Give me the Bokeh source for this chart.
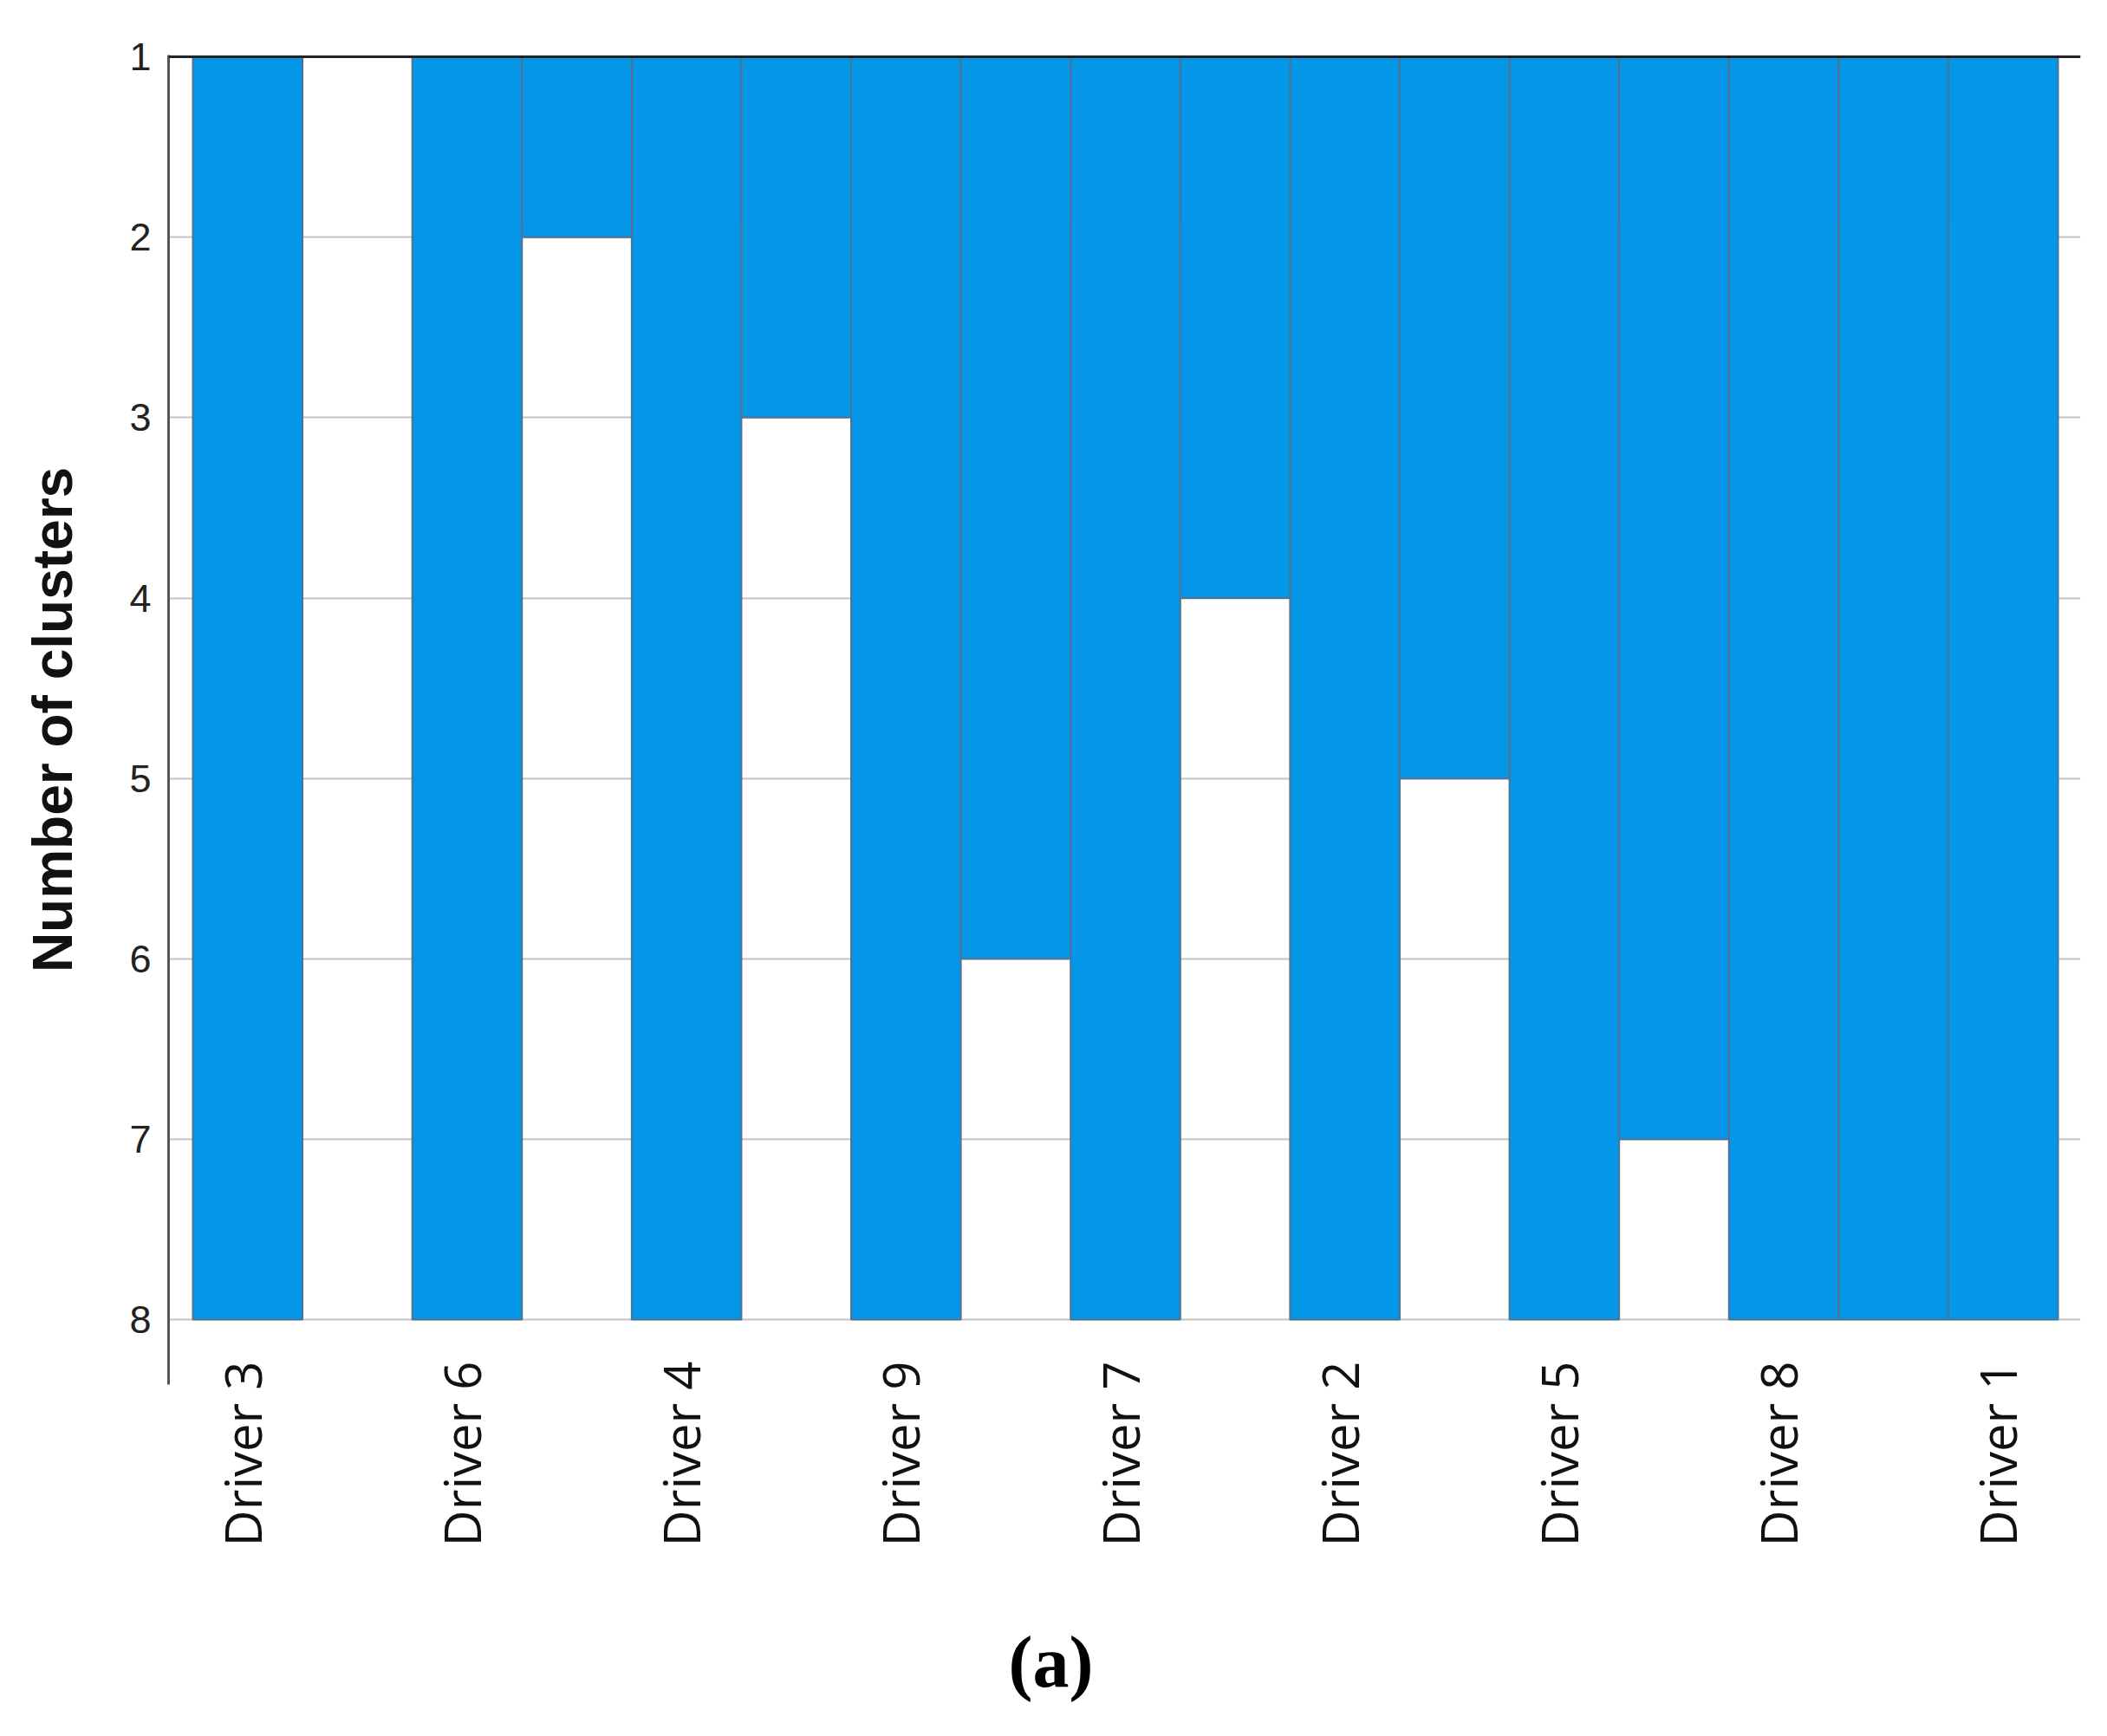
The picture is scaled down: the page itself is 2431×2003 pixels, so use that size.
import math
from bokeh.plotting import figure
from bokeh.models import Range1d, FixedTicker, Span, Title, LinearAxis
from bokeh.embed import file_html
from bokeh.resources import INLINE

# ---- data ----
drivers = ["Driver 3", "Driver 6", "Driver 4", "Driver 9", "Driver 7",
           "Driver 2", "Driver 5", "Driver 8", "Driver 1"]
driver_depth = [8, 8, 8, 8, 8, 8, 8, 8, 8]          # each driver column spans all levels
join_depth = [1, 2, 3, 6, 4, 5, 7, 8]              # gap column between neighbours: filled down to this level
cluster_levels = [1, 2, 3, 4, 5, 6, 7, 8]

BLUE = "#0497E8"
EDGE = "#4f7393"

# column positions: driver i -> 2i, gap i -> 2i+1
drv_x = [2 * i + 0.5 for i in range(len(drivers))]
gap_x = [2 * i + 1.5 for i in range(len(join_depth))]
ncol = len(drivers) + len(join_depth)
label_x = [x - 0.05 for x in drv_x]   # small visual nudge of the rotated labels

p = figure(width=2431, height=2003, output_backend="svg", toolbar_location=None,
           x_range=Range1d(-0.221, ncol + 0.205),
           y_range=Range1d(8.36, 0.99),
           min_border_left=194, min_border_right=31, min_border_top=63,
           min_border_bottom=406)
p.outline_line_color = None
p.background_fill_color = "white"
p.border_fill_color = "white"

# bars
p.vbar(x=drv_x, width=1, top=[1] * len(drivers), bottom=driver_depth,
       fill_color=BLUE, line_color=EDGE, line_width=2)
gx = [x for x, d in zip(gap_x, join_depth) if d > 1]
gd = [d for d in join_depth if d > 1]
p.vbar(x=gx, width=1, top=[1] * len(gx), bottom=gd,
       fill_color=BLUE, line_color=EDGE, line_width=2)

# top rule
p.add_layout(Span(location=cluster_levels[0], dimension="width",
                  line_color="#222222", line_width=3))

# grid
p.xgrid.visible = False
p.ygrid.ticker = FixedTicker(ticks=cluster_levels)
p.ygrid.grid_line_color = "#c4c4c4"
p.ygrid.grid_line_width = 2

# y axis
p.yaxis.ticker = FixedTicker(ticks=cluster_levels)
p.yaxis.axis_line_color = "#555555"
p.yaxis.axis_line_width = 3
p.yaxis.major_tick_out = 0
p.yaxis.major_tick_in = 0
p.yaxis.minor_tick_out = 0
p.yaxis.minor_tick_in = 0
p.yaxis.major_label_standoff = 20
p.yaxis.major_label_text_font = "Liberation Sans"
p.yaxis.major_label_text_font_size = "45px"
p.yaxis.major_label_text_color = "#222222"
p.yaxis.axis_label = "Number of clusters"
p.yaxis.axis_label_text_font = "Liberation Sans"
p.yaxis.axis_label_text_font_style = "bold"
p.yaxis.axis_label_text_font_size = "64px"
p.yaxis.axis_label_text_color = "#111111"
p.yaxis.axis_label_standoff = 49

# x axis
p.xaxis.ticker = FixedTicker(ticks=label_x)
p.xaxis.major_label_overrides = {x: name for x, name in zip(label_x, drivers)}
p.xaxis.axis_line_color = None
p.xaxis.major_tick_out = 0
p.xaxis.major_tick_in = 0
p.xaxis.minor_tick_out = 0
p.xaxis.minor_tick_in = 0
p.xaxis.major_label_orientation = math.pi / 2
p.xaxis.major_label_standoff = -27
p.xaxis.major_label_text_font = "Open Sans"
p.xaxis.major_label_text_font_size = "58px"
p.xaxis.major_label_text_color = "#111111"

# blank spacer axis between the tick labels and the caption (white tick in the margin)
spacer_tick = -0.2
spacer = LinearAxis(ticker=FixedTicker(ticks=[spacer_tick]), axis_line_color=None,
                    major_tick_line_color="white", minor_tick_line_color=None,
                    major_tick_out=81, major_tick_in=0,
                    minor_tick_out=0, minor_tick_in=0,
                    major_label_standoff=0,
                    major_label_overrides={spacer_tick: ""},
                    major_label_text_font_size="1px")
p.add_layout(spacer, "below")

# caption
cap = Title(text="(a)", align="left", offset=969, text_font="Liberation Serif",
            text_font_size="84px", text_font_style="bold", text_color="black",
            standoff=0)
p.add_layout(cap, "below")

open("out.html", "w").write(file_html(p, INLINE))
